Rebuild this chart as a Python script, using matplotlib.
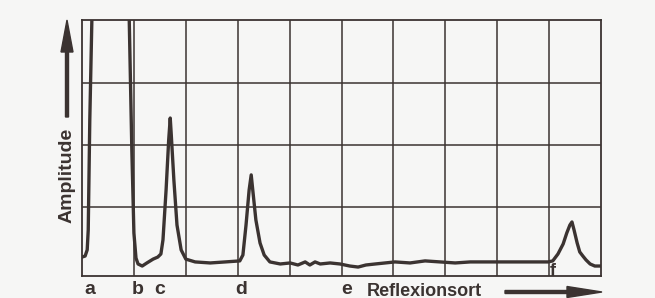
import numpy as np
import matplotlib
matplotlib.use('Agg')
import matplotlib.pyplot as plt

# trace: position in grid divisions, amplitude in % of screen height
pos = [0.00, 0.06, 0.10, 0.12, 0.15, 0.19, 0.21, 0.89, 0.91, 0.96, 1.00, 1.04,
       1.08, 1.16, 1.25, 1.37, 1.46, 1.52, 1.56, 1.62, 1.67, 1.70, 1.72, 1.77,
       1.83, 1.91, 2.00, 2.18, 2.47, 2.76, 3.04, 3.10, 3.16, 3.22, 3.26, 3.29,
       3.35, 3.43, 3.51, 3.62, 3.82, 4.01, 4.16, 4.30, 4.39, 4.49, 4.59, 4.78,
       4.97, 5.16, 5.32, 5.47, 5.65, 5.84, 6.03, 6.32, 6.61, 6.90, 7.19, 7.48,
       7.86, 8.25, 8.63, 8.98, 9.07, 9.17, 9.27, 9.34, 9.40, 9.44, 9.48, 9.54,
       9.59, 9.65, 9.71, 9.79, 9.88, 10.00]
amp = [7.4, 7.8, 10.2, 18.0, 60.9, 100.0, 115.0, 115.0, 100.0, 49.2, 16.8, 7.0,
       4.7, 3.9, 5.1, 6.6, 7.4, 8.6, 14.1, 33.6, 53.1, 61.7, 55.1, 37.5,
       19.9, 10.2, 6.6, 5.5, 5.1, 5.5, 5.9, 8.2, 19.9, 33.6, 39.5, 33.6,
       21.9, 12.9, 8.2, 5.5, 4.7, 5.1, 4.3, 5.5, 4.3, 5.5, 4.7, 5.1,
       4.7, 3.9, 3.5, 4.3, 4.7, 5.1, 5.5, 5.1, 5.9, 5.5, 5.1, 5.5,
       5.5, 5.5, 5.5, 5.5, 5.9, 8.6, 12.5, 16.8, 19.9, 21.1, 18.0, 12.9,
       9.4, 7.8, 6.3, 4.7, 3.9, 3.9]

# echo labels and where they sit
marks = ['a', 'b', 'c', 'd', 'e']
mark_pos = [0.15, 1.08, 1.49, 3.06, 5.10]
f_label_pos = 9.07

# screen grid
grid_x = np.arange(1, 10)
grid_y = [27.0, 51.3, 75.4]

ink = '#3b3331'
paper = '#f6f6f5'

plt.rcParams['font.family'] = ['Liberation Sans', 'DejaVu Sans']

fig = plt.figure(figsize=(6.55, 2.98), dpi=100, facecolor=paper)
ax = fig.add_axes([0.1252, 0.0738, 0.7924, 0.8591])
ax.set_facecolor(paper)

for gx in grid_x:
    ax.axvline(gx, color=ink, lw=1.1)
for gy in grid_y:
    ax.axhline(gy, color=ink, lw=1.1)

ax.plot(pos, amp, color=ink, lw=2.4, solid_joinstyle='round')

ax.set_xlim(0, 10)
ax.set_ylim(0, 100)
ax.set_xticks([])
ax.set_yticks([])
for s in ax.spines.values():
    s.set_color(ink)
    s.set_linewidth(1.3)

for m, x in zip(marks, mark_pos):
    ax.text(x, -5.2, m, ha='center', va='center', fontsize=14,
            fontweight='bold', color=ink, clip_on=False)
ax.text(f_label_pos, 1.8, 'f', ha='center', va='center', fontsize=13,
        fontweight='bold', color=ink, clip_on=False)

# axis captions with arrows
fig.text(367 / 655, 1 - 291 / 298, 'Reflexionsort', ha='left', va='center',
         fontsize=13, fontweight='bold', color=ink)
fig.text(67 / 655, 1 - 175 / 298, 'Amplitude', ha='center', va='center',
         rotation=90, fontsize=14, fontweight='bold', color=ink)
fig.patches.append(matplotlib.patches.FancyArrow(
    67 / 655, 1 - 117 / 298, 0, (117 - 20 - 32) / 298,
    width=3 / 655, head_width=12 / 655, head_length=32 / 298,
    length_includes_head=False, color=ink, transform=fig.transFigure))
fig.patches.append(matplotlib.patches.FancyArrow(
    505 / 655, 1 - 292 / 298, (602 - 505 - 35) / 655, 0,
    width=3 / 298, head_width=11 / 298, head_length=35 / 655,
    length_includes_head=False, color=ink, transform=fig.transFigure))

fig.savefig('out.png', dpi=100, facecolor=paper)
